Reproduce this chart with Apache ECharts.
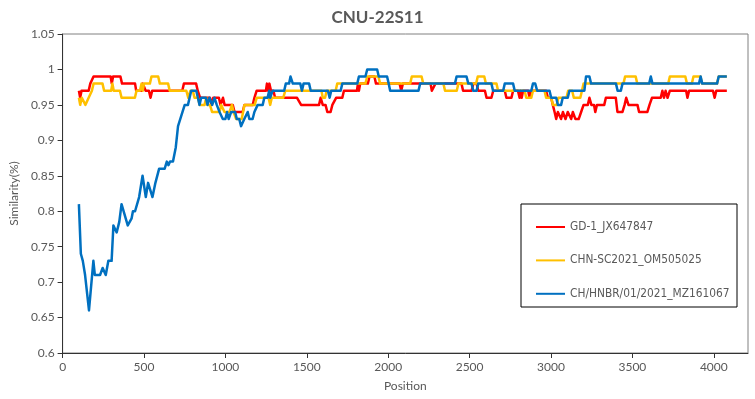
<!DOCTYPE html>
<html>
<head>
<meta charset="utf-8">
<script src="https://cdn.jsdelivr.net/npm/echarts/dist/echarts.min.js"></script>
<style>
  html, body { margin: 0; padding: 0; background: #fff; }
  #chart { width: 755px; height: 399px; }
</style>
</head>
<body>
<div id="chart"></div>
<script>
// 系列名称
const seriesNames = ['GD-1_JX647847', 'CHN-SC2021_OM505025', 'CH/HNBR/01/2021_MZ161067']

// [position, similarity]
const gd1 = [[100,0.97],[108,0.96],[116,0.97],[160,0.97],[170,0.98],[182,0.98],[190,0.99],[295,0.99],[302,0.98],[310,0.99],[355,0.99],[365,0.98],[445,0.98],[452,0.97],[487,0.97],[493,0.98],[503,0.98],[510,0.97],[530,0.97],[540,0.96],[550,0.97],[735,0.97],[745,0.98],[820,0.98],[830,0.97],[845,0.96],[905,0.96],[915,0.95],[925,0.96],[960,0.96],[970,0.95],[985,0.96],[995,0.95],[1045,0.95],[1056,0.94],[1106,0.94],[1117,0.95],[1168,0.95],[1178,0.96],[1192,0.97],[1249,0.97],[1255,0.98],[1263,0.97],[1270,0.98],[1280,0.97],[1295,0.97],[1305,0.96],[1440,0.96],[1465,0.95],[1575,0.95],[1585,0.96],[1598,0.95],[1615,0.95],[1626,0.94],[1646,0.94],[1657,0.95],[1668,0.95],[1680,0.96],[1718,0.96],[1728,0.97],[1808,0.97],[1814,0.98],[1820,0.97],[1828,0.98],[1875,0.98],[1885,0.99],[1915,0.99],[1925,0.98],[2070,0.98],[2080,0.97],[2090,0.98],[2260,0.98],[2268,0.97],[2280,0.97],[2290,0.98],[2450,0.98],[2460,0.97],[2512,0.97],[2523,0.98],[2543,0.98],[2553,0.97],[2594,0.97],[2604,0.96],[2634,0.96],[2645,0.97],[2716,0.97],[2726,0.96],[2757,0.96],[2767,0.97],[2797,0.97],[2807,0.96],[2813,0.97],[2820,0.96],[2828,0.97],[2860,0.97],[2868,0.96],[2879,0.97],[2970,0.97],[2981,0.96],[3001,0.96],[3011,0.95],[3022,0.94],[3032,0.93],[3042,0.94],[3052,0.94],[3062,0.93],[3073,0.94],[3089,0.93],[3103,0.94],[3113,0.94],[3124,0.93],[3134,0.94],[3150,0.93],[3170,0.93],[3185,0.94],[3200,0.95],[3226,0.95],[3236,0.96],[3248,0.95],[3264,0.95],[3272,0.94],[3282,0.95],[3327,0.95],[3337,0.96],[3398,0.96],[3408,0.94],[3439,0.94],[3452,0.95],[3462,0.96],[3476,0.95],[3531,0.95],[3541,0.94],[3592,0.94],[3605,0.95],[3620,0.96],[3674,0.96],[3684,0.97],[3694,0.96],[3704,0.97],[3716,0.96],[3730,0.97],[3830,0.97],[3838,0.96],[3848,0.97],[3995,0.97],[4005,0.96],[4015,0.97],[4080,0.97]]

const chnSc = [[100,0.96],[108,0.95],[118,0.96],[130,0.96],[140,0.95],[150,0.95],[160,0.96],[170,0.96],[180,0.97],[190,0.98],[245,0.98],[255,0.97],[298,0.97],[306,0.98],[314,0.97],[352,0.97],[362,0.96],[444,0.96],[454,0.97],[475,0.97],[485,0.98],[492,0.97],[500,0.98],[536,0.98],[546,0.99],[587,0.99],[597,0.98],[648,0.98],[658,0.97],[760,0.97],[772,0.96],[785,0.97],[800,0.97],[810,0.96],[831,0.96],[842,0.95],[872,0.95],[882,0.96],[892,0.95],[905,0.95],[918,0.94],[964,0.94],[974,0.95],[984,0.95],[994,0.94],[1025,0.94],[1040,0.95],[1050,0.94],[1066,0.93],[1100,0.93],[1117,0.95],[1180,0.95],[1192,0.96],[1265,0.96],[1275,0.95],[1285,0.96],[1355,0.96],[1368,0.97],[1590,0.97],[1598,0.96],[1612,0.96],[1622,0.97],[1677,0.97],[1687,0.98],[1860,0.98],[1871,0.99],[1940,0.99],[1950,0.98],[2135,0.98],[2145,0.99],[2205,0.99],[2215,0.98],[2339,0.98],[2349,0.97],[2421,0.97],[2431,0.98],[2540,0.98],[2550,0.99],[2590,0.99],[2600,0.98],[2665,0.98],[2675,0.97],[2838,0.97],[2848,0.96],[2879,0.96],[2889,0.97],[2960,0.97],[2970,0.96],[3001,0.96],[3012,0.95],[3035,0.95],[3045,0.96],[3095,0.96],[3105,0.97],[3130,0.97],[3140,0.96],[3180,0.96],[3190,0.97],[3200,0.98],[3445,0.98],[3455,0.99],[3520,0.99],[3530,0.98],[3720,0.98],[3730,0.99],[3825,0.99],[3835,0.98],[3865,0.98],[3875,0.99],[3918,0.99],[3928,0.98],[4020,0.98],[4030,0.99],[4080,0.99]]

const chHnbr = [[100,0.81],[112,0.74],[124,0.73],[138,0.71],[150,0.71],[162,0.66],[170,0.66],[189,0.73],[198,0.71],[230,0.71],[246,0.72],[255,0.72],[265,0.71],[281,0.73],[301,0.73],[312,0.78],[332,0.77],[348,0.785],[362,0.81],[372,0.81],[400,0.78],[412,0.78],[424,0.79],[432,0.80],[445,0.80],[470,0.82],[480,0.82],[491,0.85],[511,0.82],[525,0.84],[535,0.84],[552,0.82],[562,0.82],[570,0.84],[593,0.86],[627,0.86],[640,0.87],[650,0.865],[660,0.87],[678,0.87],[695,0.89],[709,0.92],[719,0.92],[750,0.95],[770,0.95],[780,0.96],[790,0.97],[821,0.97],[831,0.96],[841,0.95],[851,0.96],[880,0.96],[890,0.95],[902,0.96],[919,0.95],[933,0.96],[947,0.95],[964,0.94],[984,0.93],[1000,0.93],[1010,0.94],[1020,0.93],[1035,0.94],[1060,0.94],[1070,0.93],[1085,0.93],[1096,0.92],[1106,0.92],[1116,0.93],[1127,0.93],[1137,0.94],[1147,0.93],[1167,0.93],[1178,0.94],[1190,0.94],[1198,0.95],[1229,0.95],[1239,0.96],[1259,0.96],[1269,0.97],[1275,0.96],[1290,0.97],[1361,0.97],[1371,0.98],[1391,0.98],[1400,0.99],[1406,0.99],[1414,0.98],[1460,0.98],[1470,0.97],[1480,0.98],[1514,0.98],[1524,0.97],[1630,0.97],[1640,0.96],[1650,0.97],[1708,0.97],[1718,0.98],[1810,0.98],[1820,0.99],[1860,0.99],[1871,1.0],[1932,1.0],[1942,0.99],[1993,0.99],[2003,0.98],[2012,0.97],[2186,0.97],[2196,0.98],[2410,0.98],[2420,0.99],[2481,0.99],[2492,0.98],[2512,0.98],[2522,0.97],[2543,0.97],[2553,0.98],[2634,0.98],[2644,0.97],[2706,0.97],[2716,0.98],[2767,0.98],[2777,0.97],[2879,0.97],[2889,0.98],[2903,0.98],[2915,0.97],[2991,0.97],[3001,0.96],[3032,0.96],[3042,0.95],[3062,0.95],[3072,0.96],[3103,0.96],[3113,0.97],[3205,0.97],[3215,0.99],[3236,0.99],[3246,0.98],[3399,0.98],[3409,0.97],[3429,0.97],[3439,0.98],[3603,0.98],[3613,0.99],[3623,0.98],[3909,0.98],[3919,0.99],[3929,0.98],[4020,0.98],[4030,0.99],[4080,0.99]]

const colors = ['#FF0000', '#FFC000', '#0070C0']
const font = 'Lato, "Open Sans", sans-serif'
const legendFont = '"Liberation Sans Narrow", "Arial Narrow", "DejaVu Sans Condensed", Lato, sans-serif'
const textColor = '#595959'

const chart = echarts.init(document.getElementById('chart'))

const option = {
  animation: false,
  title: {
    text: 'CNU-22S11',
    left: 'center',
    top: 4,
    textStyle: { fontSize: 17, fontWeight: 'bold', color: textColor, fontFamily: font }
  },
  graphic: [
    {
      type: 'rect',
      z: 1,
      shape: { x: 521, y: 204, width: 216, height: 103 },
      style: { fill: '#fff', stroke: '#000', lineWidth: 1 }
    }
  ],
  legend: {
    z: 5,
    orient: 'vertical',
    left: 531,
    top: 215,
    icon: 'rect',
    itemWidth: 29,
    itemHeight: 2,
    itemGap: 19.4,
    data: seriesNames,
    textStyle: { fontSize: 11.8, lineHeight: 14, color: textColor, fontFamily: legendFont }
  },
  grid: {
    left: 59,
    right: 7,
    top: 34,
    bottom: 46,
    show: true,
    borderColor: '#808080',
    borderWidth: 1
  },
  xAxis: {
    type: 'value',
    min: 0,
    max: 4210,
    interval: 500,
    name: 'Position',
    nameLocation: 'middle',
    nameGap: 27,
    nameTextStyle: { fontSize: 12, color: textColor, fontFamily: font },
    axisLine: { lineStyle: { color: '#333', width: 1 } },
    axisTick: { show: true, length: 5, lineStyle: { color: '#333' } },
    axisLabel: {
      showMaxLabel: false,
      margin: 8,
      fontSize: 12,
      color: textColor,
      fontFamily: font,
      formatter: v => (v % 500 === 0 ? String(v) : '')
    },
    splitLine: { show: false }
  },
  yAxis: {
    type: 'value',
    min: 0.6,
    max: 1.05,
    interval: 0.05,
    name: 'Similarity(%)',
    nameLocation: 'middle',
    nameGap: 38,
    nameTextStyle: { fontSize: 12, color: textColor, fontFamily: font },
    axisLine: { show: true, lineStyle: { color: '#333', width: 1 } },
    axisTick: { show: true, length: 5, lineStyle: { color: '#333' } },
    axisLabel: {
      margin: 8,
      fontSize: 12,
      color: textColor,
      fontFamily: font,
      formatter: v => String(Math.round(v * 100) / 100)
    },
    splitLine: { show: false }
  },
  series: [gd1, chnSc, chHnbr].map((d, i) => ({
    name: seriesNames[i],
    type: 'line',
    data: d,
    showSymbol: false,
    symbol: 'none',
    lineStyle: { color: colors[i], width: 2.5, join: 'round' },
    itemStyle: { color: colors[i] },
    z: 2 + i
  }))
}

chart.setOption(option)
</script>
</body>
</html>
